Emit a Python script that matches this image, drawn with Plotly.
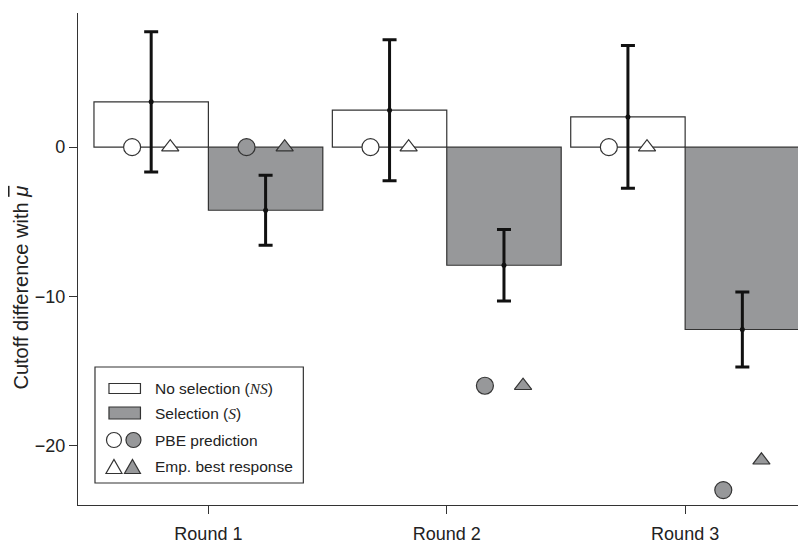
import plotly.graph_objects as go

# ---- data ----
rounds = ["Round 1", "Round 2", "Round 3"]
round_pos = [1, 2, 3]
ns_mean = [3.04, 2.48, 2.03]
ns_err = [4.7, 4.73, 4.79]
s_mean = [-4.23, -7.92, -12.23]
s_err = [2.35, 2.4, 2.52]
ns_pbe = [0, 0, 0]
s_pbe = [0, -16, -23]
ns_ebr = [0, 0, 0]
s_ebr = [0, -16, -21]

BW = 0.48
OFF = 0.08
GRAY = "#97989a"
EDGE = "#333333"
FONT = "Liberation Sans"

ns_x = [p - BW / 2 for p in round_pos]
s_x = [p + BW / 2 for p in round_pos]

fig = go.Figure()

fig.add_trace(go.Bar(x=ns_x, y=ns_mean, width=BW, marker=dict(color="white", line=dict(color=EDGE, width=1.2)),
                     showlegend=False))
fig.add_trace(go.Bar(x=s_x, y=s_mean, width=BW, marker=dict(color=GRAY, line=dict(color=EDGE, width=1.2)),
                     showlegend=False))

# PBE prediction circles
fig.add_trace(go.Scatter(x=[v - OFF for v in ns_x], y=ns_pbe, mode="markers",
                         marker=dict(symbol="circle", size=17, color="white", line=dict(color=EDGE, width=1.2)),
                         showlegend=False))
fig.add_trace(go.Scatter(x=[v - OFF for v in s_x], y=s_pbe, mode="markers",
                         marker=dict(symbol="circle", size=17, color=GRAY, line=dict(color=EDGE, width=1.2)),
                         showlegend=False))
# Empirical best response triangles
fig.add_trace(go.Scatter(x=[v + OFF for v in ns_x], y=ns_ebr, mode="markers",
                         marker=dict(symbol="triangle-up", size=15, color="white", line=dict(color=EDGE, width=1.2)),
                         showlegend=False))
fig.add_trace(go.Scatter(x=[v + OFF for v in s_x], y=s_ebr, mode="markers",
                         marker=dict(symbol="triangle-up", size=15, color=GRAY, line=dict(color=EDGE, width=1.2)),
                         showlegend=False))

# error bars with mean dots
fig.add_trace(go.Scatter(x=ns_x + s_x, y=ns_mean + s_mean, mode="markers",
                         marker=dict(color="#111111", size=5),
                         error_y=dict(type="data", array=ns_err + s_err, color="#111111", thickness=3, width=7),
                         showlegend=False))

# ---- layout geometry (plot area in page pixels) ----
PAGE_OFF = 8  # default body margin of the html page
L, R, T, B = 77.5, 806.0, 13.0, 505.0
W, H = 806 - PAGE_OFF, 544 - PAGE_OFF


def px(x):
    return (x - L) / (R - L)


def py(y):
    return (B - y) / (B - T)


shapes = []
annotations = []
# legend box
shapes.append(dict(type="rect", xref="paper", yref="paper", x0=px(94.5), x1=px(303), y0=py(367), y1=py(483),
                   line=dict(color=EDGE, width=1.2), fillcolor="white", layer="above"))
# rect patches
shapes.append(dict(type="rect", xref="paper", yref="paper", x0=px(108.5), x1=px(140), y0=py(383.5), y1=py(393.5),
                   line=dict(color=EDGE, width=1.2), fillcolor="white", layer="above"))
shapes.append(dict(type="rect", xref="paper", yref="paper", x0=px(108.5), x1=px(140), y0=py(407), y1=py(419),
                   line=dict(color=EDGE, width=1.2), fillcolor=GRAY, layer="above"))
# circles
for cx, col in [(113.5, "white"), (133, GRAY)]:
    shapes.append(dict(type="circle", xref="paper", yref="paper", x0=px(cx - 7.5), x1=px(cx + 7.5),
                       y0=py(440 - 7.5), y1=py(440 + 7.5), line=dict(color=EDGE, width=1.2), fillcolor=col,
                       layer="above"))
# triangles
for cx, col in [(113.5, "white"), (132, GRAY)]:
    ytop, ybot = 459.5, 473.5
    path = "M {} {} L {} {} L {} {} Z".format(px(cx - 8), py(ybot), px(cx + 8), py(ybot), px(cx), py(ytop))
    shapes.append(dict(type="path", xref="paper", yref="paper", path=path, line=dict(color=EDGE, width=1.2),
                       fillcolor=col, layer="above"))

serif = '<span style="font-family:Liberation Serif"><i>{}</i></span>'
leg_texts = ["No selection (" + serif.format("NS") + ")",
             "Selection (" + serif.format("S") + ")",
             "PBE prediction",
             "Emp. best response"]
leg_y = [388.5, 413, 440, 466.5]
for t, yy in zip(leg_texts, leg_y):
    annotations.append(dict(text=t, xref="paper", yref="paper", x=px(153), y=py(yy), xanchor="left",
                            yanchor="middle", showarrow=False, font=dict(family=FONT, size=15.5, color="#222222")))

# y axis title
annotations.append(dict(text='Cutoff difference with <span style="text-decoration:overline"><i>μ</i></span>',
                        xref="paper", yref="paper", x=px(20), y=py(288),
                        xanchor="center", yanchor="middle", textangle=-90, showarrow=False,
                        font=dict(family=FONT, size=20, color="#222222")))

fig.update_layout(
    width=W, height=H,
    margin=dict(l=L - PAGE_OFF, r=W - (R - PAGE_OFF), t=T - PAGE_OFF, b=H - (B - PAGE_OFF), pad=0,
                autoexpand=False),
    paper_bgcolor="white", plot_bgcolor="white",
    barmode="overlay",
    shapes=shapes, annotations=annotations,
    font=dict(family=FONT, size=18, color="#222222"),
    xaxis=dict(range=[0.453, 3.507], tickvals=round_pos, ticktext=rounds, showgrid=False, zeroline=False,
               showline=True, linecolor="#333333", linewidth=1.2, ticks="outside", ticklen=8, tickwidth=1.2,
               tickcolor="#333333", tickfont=dict(size=18), fixedrange=True, ticklabelstandoff=4),
    yaxis=dict(range=[-24, 9], tickvals=[0, -10, -20], showgrid=False, zeroline=False, showline=True,
               linecolor="#333333", linewidth=1.2, ticks="outside", ticklen=8, tickwidth=1.2,
               tickcolor="#333333", tickfont=dict(size=18), fixedrange=True),
)

fig.write_html("out.html")
